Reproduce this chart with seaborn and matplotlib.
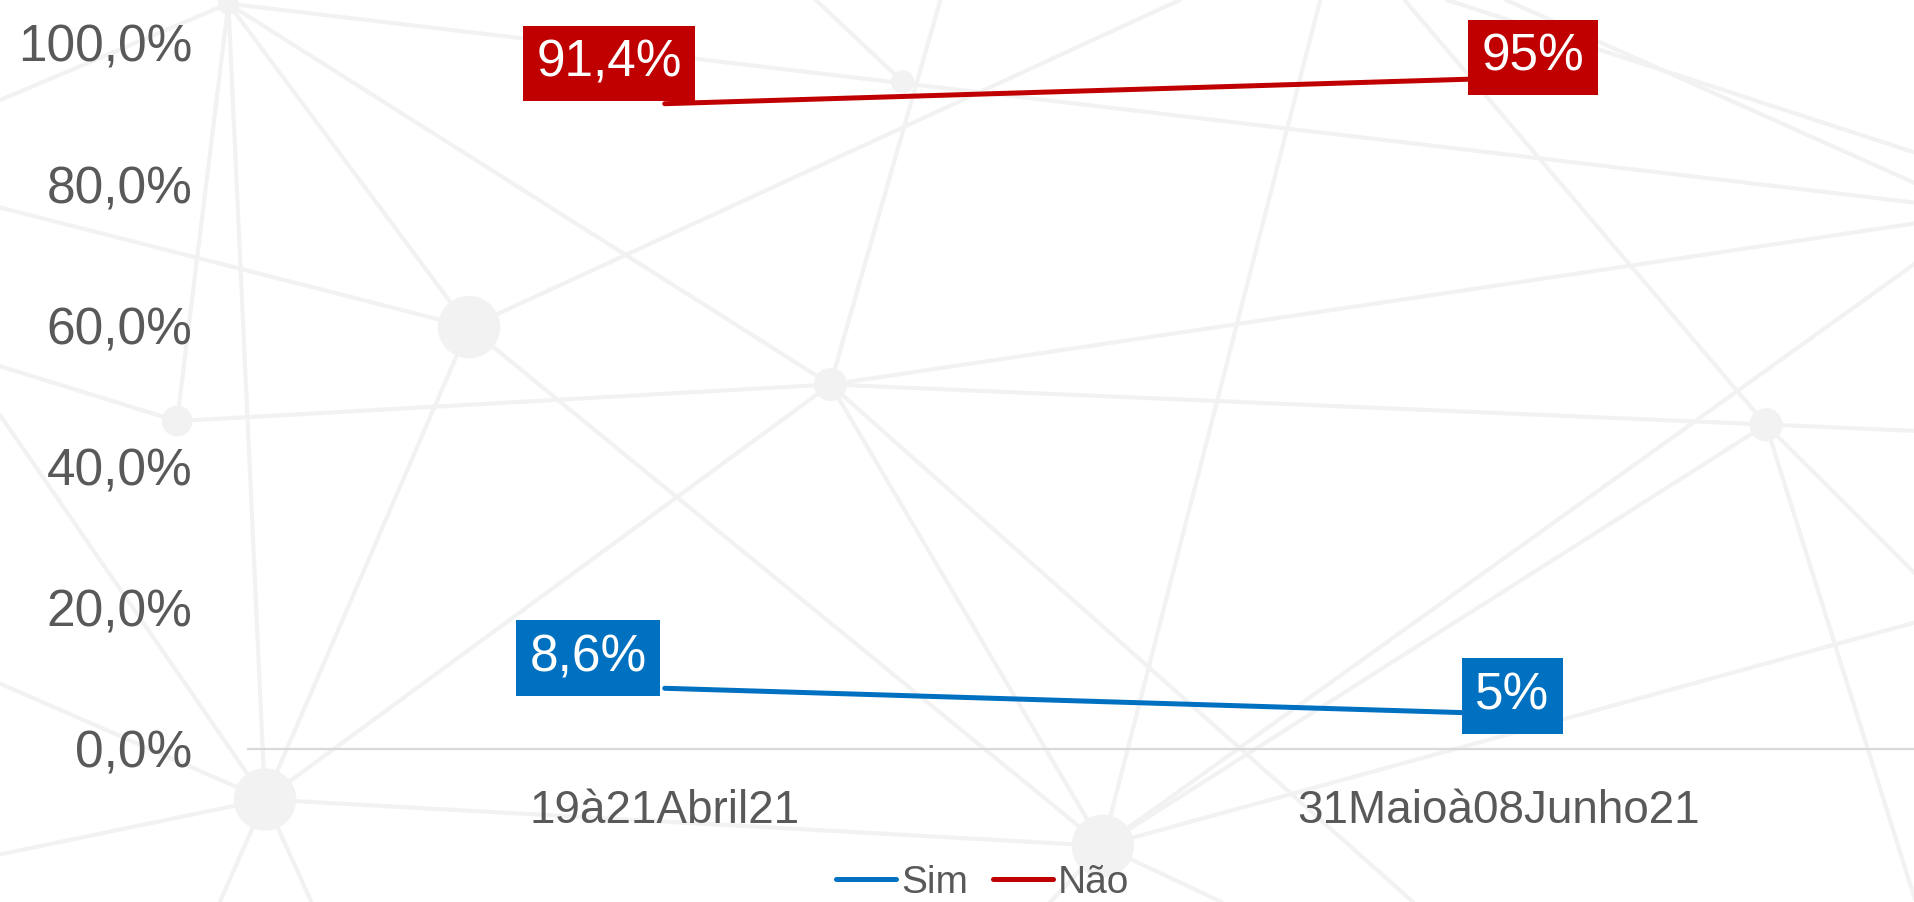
import matplotlib
matplotlib.use("Agg")
import matplotlib.pyplot as plt
import seaborn as sns
import pandas as pd
from matplotlib.lines import Line2D
from matplotlib.patches import Circle

# ---- data -------------------------------------------------------------
periods = ["19à21Abril21", "31Maioà08Junho21"]
series_names = ["Sim", "Não"]
sim_values = [8.6, 5.0]
nao_values = [91.4, 95.0]
sim_labels = ["8,6%", "5%"]
nao_labels = ["91,4%", "95%"]
y_ticks = [0, 20, 40, 60, 80, 100]
y_tick_labels = ["0,0%", "20,0%", "40,0%", "60,0%", "80,0%", "100,0%"]

BLUE = "#0070C0"
RED = "#C00000"
TEXT = "#595959"
NET = "#F2F2F2"

df = pd.DataFrame({
    "Período": periods * 2,
    "Série": [series_names[0]] * len(periods) + [series_names[1]] * len(periods),
    "Valor": sim_values + nao_values,
})

sns.set_theme(style="white")
plt.rcParams["font.family"] = ["Liberation Sans", "DejaVu Sans"]

fig = plt.figure(figsize=(19.15, 9.02), dpi=100)

# ---- decorative network backdrop (design grid 1568 x 739) -------------
GW, GH = 1568, 739
def g(p):
    return (p[0] / GW, 1 - p[1] / GH)

nodes = {
    "A": (187, 3, 8), "B": (384, 268, 25), "C": (145, 345, 12),
    "D": (680, 315, 13), "E": (739, 67, 9), "F": (1446, 348, 13),
    "G": (217, 655, 25), "H": (903, 693, 25),
}
def P(k):
    return nodes[k][:2]

edges = [
    (P("A"), P("B")), (P("A"), P("C")), (P("A"), P("G")), (P("A"), P("D")),
    (P("A"), (1568, 166)), (P("A"), (0, 82)),
    (P("B"), (0, 170)), (P("B"), (966, 0)), (P("B"), P("H")), (P("B"), P("G")),
    (P("C"), P("D")), (P("C"), (0, 300)), ((0, 340), P("G")),
    (P("D"), (1568, 353)), (P("D"), (1568, 183)), (P("D"), P("H")),
    (P("D"), (1157, 739)), (P("G"), P("D")), ((770, 0), P("D")),
    ((668, 0), P("E")), (P("G"), P("H")), (P("G"), (0, 700)),
    (P("G"), (180, 739)), (P("G"), (255, 739)), (P("G"), (0, 560)),
    (P("H"), (1568, 510)), (P("H"), P("F")), (P("H"), (1568, 216)),
    (P("H"), (1081, 0)), (P("H"), (860, 739)), (P("H"), (1000, 739)),
    ((1150, 0), P("F")), ((1233, 0), (1568, 150)), (P("F"), (1568, 737)),
    (P("F"), (1568, 470)), ((1185, 0), (1568, 125)),
]
for a, b in edges:
    (x0, y0), (x1, y1) = g(a), g(b)
    fig.add_artist(Line2D([x0, x1], [y0, y1], transform=fig.transFigure,
                          color=NET, lw=3.0, zorder=0))
for k, (x, y, r) in nodes.items():
    fig.add_artist(Circle((x / GW * 19.15, 9.02 - y / GH * 9.02), r / GW * 19.15,
                          transform=fig.dpi_scale_trans, color=NET, zorder=0))

# ---- chart ------------------------------------------------------------
ax = fig.add_axes([248 / 1915, 1 - 749 / 902, 1 - 248 / 1915, (749 - 43) / 902])
ax.set_facecolor("none")

sns.lineplot(data=df, x="Período", y="Valor", hue="Série",
             palette={"Sim": BLUE, "Não": RED}, linewidth=3.6,
             ax=ax, legend=False, sort=False)

ax.set_xlim(-0.5, 1.5)
ax.set_ylim(0, 100)
ax.set_yticks(y_ticks)
ax.set_yticklabels(y_tick_labels)
ax.set_xlabel("")
ax.set_ylabel("")
ax.tick_params(axis="both", length=0, colors=TEXT)
ax.tick_params(axis="y", pad=40, labelsize=37)
ax.tick_params(axis="x", pad=29, labelsize=33)

for side in ["left", "right", "top"]:
    ax.spines[side].set_visible(False)
ax.spines["bottom"].set_color("#D9D9D9")
ax.spines["bottom"].set_linewidth(1.6)

# ---- value labels -----------------------------------------------------
def tag(i, value, text, color, dx, dy):
    ax.annotate(text, xy=(i, value), xytext=(dx, dy), textcoords="offset points",
                ha="center", va="center", fontsize=37, color="white",
                bbox=dict(boxstyle="square,pad=0.26", fc=color, ec="none"),
                zorder=5)

nao_offsets = [(-40, 29), (25, 15)]
sim_offsets = [(-55, 22), (10, 13)]
for i, (v, t) in enumerate(zip(nao_values, nao_labels)):
    tag(i, v, t, RED, *nao_offsets[i])
for i, (v, t) in enumerate(zip(sim_values, sim_labels)):
    tag(i, v, t, BLUE, *sim_offsets[i])

# ---- legend -----------------------------------------------------------
handles = [Line2D([], [], color=BLUE, lw=3.6, solid_capstyle="round"),
           Line2D([], [], color=RED, lw=3.6, solid_capstyle="round")]
leg = fig.legend(handles, series_names, loc="center",
                 bbox_to_anchor=(0.513, 0.021), ncol=2, frameon=False,
                 fontsize=28, handlelength=1.54, handletextpad=0.13,
                 columnspacing=0.64, borderpad=0)
for t in leg.get_texts():
    t.set_color(TEXT)

fig.savefig("out.png", dpi=100)
